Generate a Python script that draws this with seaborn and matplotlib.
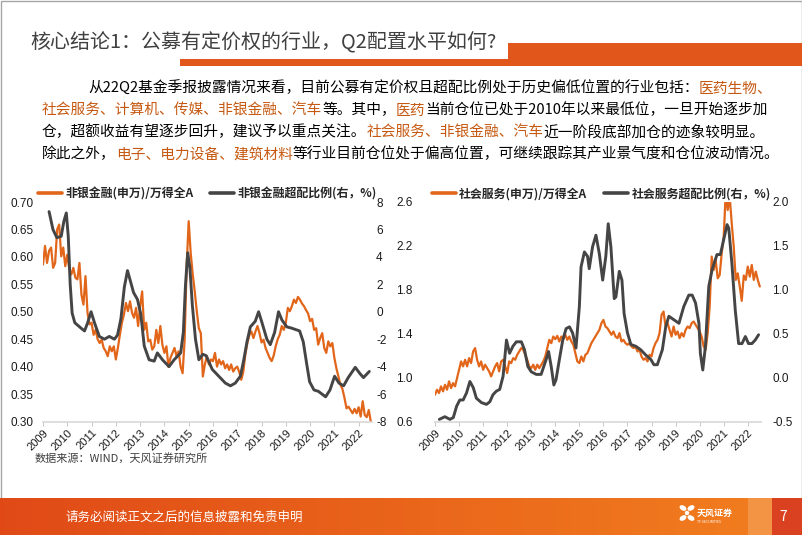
import numpy as np
import matplotlib
matplotlib.use("Agg")
import matplotlib.pyplot as plt
import seaborn as sns
from matplotlib.lines import Line2D
from matplotlib.patches import Rectangle, Ellipse

# ---------------- data ----------------
# 非银金融(申万)/万得全A, monthly from 2009-01 to 2022-07
fin_ratio = [
    0.586, 0.620, 0.589, 0.611, 0.617, 0.580, 0.589, 0.650, 0.659, 0.601, 0.617, 0.583,
    0.604, 0.577, 0.568, 0.580, 0.562, 0.559, 0.589, 0.531, 0.513, 0.565, 0.498, 0.477,
    0.480, 0.458, 0.467, 0.450, 0.443, 0.449, 0.434, 0.428, 0.419, 0.437, 0.428, 0.437,
    0.413, 0.434, 0.458, 0.480, 0.495, 0.516, 0.501, 0.519, 0.498, 0.489, 0.507, 0.474,
    0.510, 0.537, 0.467, 0.480, 0.446, 0.449, 0.431, 0.437, 0.467, 0.443, 0.474, 0.440,
    0.425, 0.437, 0.400, 0.416, 0.425, 0.434, 0.419, 0.428, 0.400, 0.388, 0.449, 0.583,
    0.665, 0.607, 0.568, 0.537, 0.501, 0.470, 0.461, 0.382, 0.404, 0.419, 0.404, 0.413,
    0.410, 0.425, 0.400, 0.413, 0.404, 0.410, 0.397, 0.404, 0.394, 0.404, 0.391, 0.397,
    0.400, 0.390, 0.376, 0.391, 0.422, 0.443, 0.458, 0.464, 0.452, 0.464, 0.474, 0.461,
    0.444, 0.449, 0.434, 0.425, 0.416, 0.410, 0.420, 0.437, 0.450, 0.458, 0.474, 0.467,
    0.480, 0.507, 0.501, 0.510, 0.522, 0.516, 0.527, 0.522, 0.515, 0.510, 0.503, 0.497,
    0.483, 0.487, 0.467, 0.470, 0.440, 0.452, 0.461, 0.434, 0.425, 0.446, 0.437, 0.443,
    0.416, 0.397, 0.382, 0.367, 0.359, 0.343, 0.324, 0.327, 0.321, 0.315, 0.323, 0.315,
    0.326, 0.309, 0.337, 0.312, 0.308, 0.321, 0.300,
]

# 非银金融超配比例(右，%)
fin_over_year = [
    2009.25, 2009.41, 2009.57, 2009.75, 2009.86, 2009.96, 2010.04, 2010.12, 2010.20, 2010.31,
    2010.57, 2010.71, 2010.84, 2010.98, 2011.12, 2011.32, 2011.53, 2011.73, 2011.94, 2012.07,
    2012.21, 2012.35, 2012.48, 2012.59, 2012.73, 2012.89, 2013.03, 2013.17, 2013.37, 2013.58,
    2013.71, 2013.92, 2014.19, 2014.40, 2014.67, 2014.78, 2014.87, 2014.96, 2015.05, 2015.15,
    2015.28, 2015.42, 2015.58, 2015.72, 2015.97, 2016.24, 2016.51, 2016.72, 2016.92, 2017.13,
    2017.27, 2017.40, 2017.54, 2017.74, 2017.88, 2018.02, 2018.22, 2018.36, 2018.54, 2018.70,
    2018.84, 2019.04, 2019.25, 2019.57, 2019.72, 2019.86, 2019.98, 2020.16, 2020.34, 2020.64,
    2020.82, 2021.01, 2021.19, 2021.38, 2021.57, 2021.86, 2022.05, 2022.20, 2022.44,
]
fin_over = [
    7.3, 6.0, 5.4, 5.5, 6.6, 7.2, 5.5, 2.0, -0.1, -0.8,
    -1.2, -1.4, -0.8, 0.0, -0.8, -1.8, -2.0, -1.8, -2.0, -1.7,
    -0.5, 1.8, 3.0, 2.3, 1.4, 0.9, -0.2, -2.5, -3.5, -3.6,
    -3.0, -3.5, -4.0, -3.5, -3.0, -1.5, 2.0, 4.3, 3.2, 0.5,
    -2.0, -3.5, -3.1, -3.2, -4.2, -4.7, -5.2, -5.4, -5.2, -4.7,
    -3.5, -2.2, -1.1, -0.7, 0.0, -0.8, -2.0, -2.4, -1.5, 0.0,
    -0.6, -1.1, -1.2, -1.4, -2.2, -3.8, -5.1, -5.7, -5.8, -6.2,
    -5.7, -4.7, -5.2, -5.4, -4.8, -4.05, -4.5, -4.8, -4.35,
]

# 社会服务(申万)/万得全A, monthly from 2009-01 to 2022-07
svc_ratio = [
    0.848, 0.893, 0.863, 0.923, 0.878, 0.938, 0.893, 0.969, 0.908, 0.953, 0.923, 0.999,
    1.074, 1.150, 1.105, 1.165, 1.105, 1.180, 1.135, 1.240, 1.271, 1.165, 1.105, 1.150,
    1.074, 1.120, 1.089, 1.059, 1.014, 1.059, 1.105, 1.135, 1.059, 1.150, 1.165, 1.105,
    1.044, 1.150, 1.135, 1.180, 1.165, 1.210, 1.240, 1.271, 1.256, 1.210, 1.165, 1.105,
    1.089, 1.120, 1.074, 1.120, 1.089, 1.120, 1.150, 1.195, 1.271, 1.346, 1.316, 1.376,
    1.352, 1.382, 1.331, 1.376, 1.352, 1.392, 1.346, 1.376, 1.331, 1.301, 1.225, 1.150,
    1.135, 1.195, 1.150, 1.210, 1.225, 1.271, 1.316, 1.346, 1.376, 1.407, 1.437, 1.497,
    1.527, 1.467, 1.452, 1.422, 1.392, 1.422, 1.376, 1.361, 1.407, 1.331, 1.346, 1.316,
    1.301, 1.316, 1.286, 1.271, 1.286, 1.240, 1.256, 1.195, 1.165, 1.180, 1.150, 1.210,
    1.195, 1.271, 1.316, 1.346, 1.407, 1.573, 1.603, 1.467, 1.497, 1.437, 1.376, 1.467,
    1.392, 1.422, 1.361, 1.407, 1.376, 1.437, 1.467, 1.452, 1.497, 1.512, 1.482, 1.452,
    1.422, 1.376, 1.286, 1.256, 1.407, 1.648, 2.102, 1.981, 2.071, 1.905, 1.935, 2.132,
    2.283, 2.676, 2.524, 2.645, 2.404, 2.192, 1.890, 1.950, 1.830, 1.700, 1.930, 1.890,
    2.011, 1.920, 2.026, 1.890, 1.966, 1.890, 1.830,
]

# 社会服务超配比例(右，%)
svc_over_year = [
    2009.18, 2009.41, 2009.62, 2009.76, 2009.90, 2010.03, 2010.17, 2010.31, 2010.45, 2010.59,
    2010.72, 2010.93, 2011.14, 2011.28, 2011.41, 2011.55, 2011.69, 2011.83, 2011.97, 2012.10,
    2012.24, 2012.38, 2012.59, 2012.72, 2012.86, 2013.00, 2013.21, 2013.41, 2013.62, 2013.72,
    2013.83, 2013.94, 2014.03, 2014.17, 2014.31, 2014.45, 2014.59, 2014.72, 2014.86, 2015.00,
    2015.07, 2015.21, 2015.34, 2015.41, 2015.55, 2015.69, 2015.83, 2015.97, 2016.10, 2016.20,
    2016.31, 2016.45, 2016.52, 2016.66, 2016.77, 2016.86, 2017.00, 2017.14, 2017.34, 2017.55,
    2017.76, 2017.97, 2018.10, 2018.24, 2018.45, 2018.59, 2018.72, 2018.93, 2019.14, 2019.34,
    2019.55, 2019.69, 2019.83, 2019.97, 2020.03, 2020.13, 2020.24, 2020.38, 2020.52, 2020.72,
    2020.86, 2021.00, 2021.14, 2021.21, 2021.34, 2021.48, 2021.62, 2021.76, 2021.90, 2022.03,
    2022.17, 2022.31, 2022.45,
]
svc_over = [
    -0.47, -0.44, -0.47, -0.45, -0.32, -0.25, -0.25, -0.17, -0.04, -0.11,
    -0.23, -0.28, -0.30, -0.27, -0.19, -0.15, -0.13, 0.02, 0.43, 0.28,
    0.36, 0.41, 0.41, 0.32, 0.13, 0.07, 0.04, 0.04, 0.21, 0.30,
    0.13, -0.08, -0.02, 0.21, 0.43, 0.56, 0.58, 0.51, 0.34, 0.81,
    1.26, 1.43, 1.38, 1.24, 1.49, 1.62, 1.41, 1.11, 1.38, 1.75,
    1.49, 0.90, 0.92, 1.21, 1.11, 0.73, 0.51, 0.38, 0.36, 0.32,
    0.26, 0.21, 0.15, 0.15, 0.32, 0.58, 0.70, 0.66, 0.62, 0.81,
    0.94, 0.94, 0.85, 0.62, 0.28, 0.09, 0.36, 1.04, 1.23, 1.40,
    1.40, 1.57, 1.74, 1.70, 1.30, 0.77, 0.39, 0.39, 0.47, 0.39,
    0.39, 0.43, 0.49,
]

years = list(range(2009, 2023))
month_x = 2009 + np.arange(len(fin_ratio)) / 12

title = "核心结论1：公募有定价权的行业，Q2配置水平如何?"
# paragraph lines: (text, highlighted)
para_lines = [
    [("从22Q2基金季报披露情况来看，目前公募有定价权且超配比例处于历史偏低位置的行业包括：", 0), ("医药生物、", 1)],
    [("社会服务、计算机、传媒、非银金融、汽车", 1), ("等。其中，", 0), ("医药", 1),
     ("当前仓位已处于2010年以来最低位，一旦开始逐步加", 0)],
    [("仓，超额收益有望逐步回升，建议予以重点关注。", 0), ("社会服务、非银金融、汽车", 1),
     ("近一阶段底部加仓的迹象较明显。", 0)],
    [("除此之外，", 0), ("电子、电力设备、建筑材料", 1),
     ("等行业目前仓位处于偏高位置，可继续跟踪其产业景气度和仓位波动情况。", 0)],
]
source = "数据来源：WIND，天风证券研究所"
footer = "请务必阅读正文之后的信息披露和免责申明"

ORANGE = "#E2661A"
GRAY = "#454545"
HL = "#C65911"
BAR = "#E0561B"

# ---------------- figure ----------------
sns.set_theme(style="white")
plt.rcParams["font.family"] = ["Noto Sans CJK SC", "DejaVu Sans"]
plt.rcParams["axes.unicode_minus"] = False

W, H = 802, 535
fig = plt.figure(figsize=(W / 100, H / 100), dpi=100)

# background layer in pixel coordinates
bg = fig.add_axes([0, 0, 1, 1])
bg.set_xlim(0, W)
bg.set_ylim(H, 0)
bg.axis("off")

bg.add_patch(Rectangle((0.5, 0.5), W - 1, H - 1, fill=False, ec="#A6A6A6", lw=1))
bg.text(30, 48.5, title, fontsize=14.4, color="#404040", va="baseline")
bg.add_patch(Rectangle((180, 59), 330, 7, color=BAR, lw=0))
bg.add_patch(Rectangle((508, 43), W - 508, 23, color=BAR, lw=0))

renderer = fig.canvas.get_renderer()


def rich_line(x, y, parts, size):
    for s, hl in parts:
        t = bg.text(x, y, s, fontsize=size, color=HL if hl else "black", va="baseline", ha="left")
        x += t.get_window_extent(renderer=renderer).width


for i, parts in enumerate(para_lines):
    rich_line(88 if i == 0 else 42, 92.5 + 22 * i, parts, 10.6)

bg.text(35, 462, source, fontsize=8, color="#404040", va="baseline")

# footer band
grad = np.linspace(0, 1, 256)
c0, c1 = np.array([0.88, 0.29, 0.09]), np.array([0.95, 0.50, 0.12])
band = c0[None, :] * (1 - grad[:, None]) + c1[None, :] * grad[:, None]
bg.imshow(band[None, :, :], extent=(0, W, H, 498), aspect="auto", zorder=1)
bg.add_patch(Rectangle((748, 498), 24, 37, color="#F39445", lw=0, zorder=2))
bg.add_patch(Rectangle((772, 498), 30, 37, color="#DA4120", lw=0, zorder=2))
bg.text(779, 521, "7", fontsize=10, color="white", va="baseline", zorder=3)
bg.text(65, 521, footer, fontsize=9, color="white", va="baseline", zorder=3)
for cx, cy, w, h, a in [(683, 508, 6, 3.5, 30), (691, 508, 6, 3.5, -30), (683, 518, 6, 3.5, -30),
                        (691, 518, 6, 3.5, 30), (687, 513, 3, 3, 0)]:
    bg.add_patch(Ellipse((cx, cy), w, h, angle=a, color="white", zorder=3))
bg.text(697, 516, "天风证券", fontsize=6.5, color="white", weight="bold", va="baseline", zorder=3)
bg.text(697, 523, "TF SECURITIES", fontsize=2.5, color="white", va="baseline", zorder=3)
bg.set_xlim(0, W)
bg.set_ylim(H, 0)


def dual_chart(rect, y_left, left_lim, left_ticks, left_fmt, pad_left,
               x2, y_right, right_lim, right_ticks, right_fmt, pad_right, names, leg_x):
    ax = fig.add_axes(rect)
    ax.patch.set_alpha(0)
    sns.lineplot(x=month_x, y=y_left, ax=ax, color=ORANGE, linewidth=1.6)
    ax.set_xlim(2009, 2022.55)
    ax.set_ylim(*left_lim)
    ax.set_yticks(left_ticks)
    ax.set_yticklabels([left_fmt.format(v) for v in left_ticks])
    ax.set_xticks(years)
    ax.set_xticklabels([str(y) for y in years], rotation=45, ha="right", rotation_mode="anchor")
    ax.tick_params(axis="y", length=0, pad=pad_left, labelsize=8.5)
    ax.tick_params(axis="x", length=3, width=0.6, color="#BFBFBF", pad=1.5, labelsize=8,
                   bottom=True)
    for side in ["top", "left", "right"]:
        ax.spines[side].set_visible(False)
    ax.spines["bottom"].set_color("#D9D9D9")
    ax.set_xlabel("")
    ax.set_ylabel("")

    ax2 = ax.twinx()
    sns.lineplot(x=x2, y=y_right, ax=ax2, color=GRAY, linewidth=2.1)
    ax2.set_ylim(*right_lim)
    ax2.set_yticks(right_ticks)
    ax2.set_yticklabels([right_fmt.format(v) for v in right_ticks])
    ax2.tick_params(axis="y", length=0, pad=pad_right, labelsize=8.5)
    for side in ax2.spines:
        ax2.spines[side].set_visible(False)
    ax2.set_ylabel("")

    for a in (ax, ax2):
        for lab in a.get_xticklabels() + a.get_yticklabels():
            lab.set_fontfamily(["Liberation Sans", "DejaVu Sans"])
            lab.set_color("#1a1a1a")

    handles = [Line2D([], [], color=ORANGE, lw=2.6), Line2D([], [], color=GRAY, lw=2.6)]
    ax.legend(handles, names, loc="center", bbox_to_anchor=(leg_x, 1.036), ncol=2,
              frameon=False, handlelength=2.0, handletextpad=0.3, columnspacing=1.4,
              prop={"size": 8.6, "weight": "bold"}, borderaxespad=0)
    return ax, ax2


dual_chart([43 / W, 1 - 421.5 / H, 329 / W, 219.5 / H], fin_ratio, (0.30, 0.70),
           [0.30, 0.35, 0.40, 0.45, 0.50, 0.55, 0.60, 0.65, 0.70], "{:.2f}", 7,
           fin_over_year, fin_over, (-8, 8), [-8, -6, -4, -2, 0, 2, 4, 6, 8], "{:d}", 3,
           ["非银金融(申万)/万得全A", "非银金融超配比例(右，%)"], 0.50)

dual_chart([435 / W, 1 - 422 / H, 326 / W, 220.3 / H], svc_ratio, (0.6, 2.6),
           [0.6, 1.0, 1.4, 1.8, 2.2, 2.6], "{:.1f}", 16,
           svc_over_year, svc_over, (-0.5, 2.0), [-0.5, 0.0, 0.5, 1.0, 1.5, 2.0], "{:.1f}", 8,
           ["社会服务(申万)/万得全A", "社会服务超配比例(右，%)"], 0.51)

fig.savefig("out.png", dpi=100)
